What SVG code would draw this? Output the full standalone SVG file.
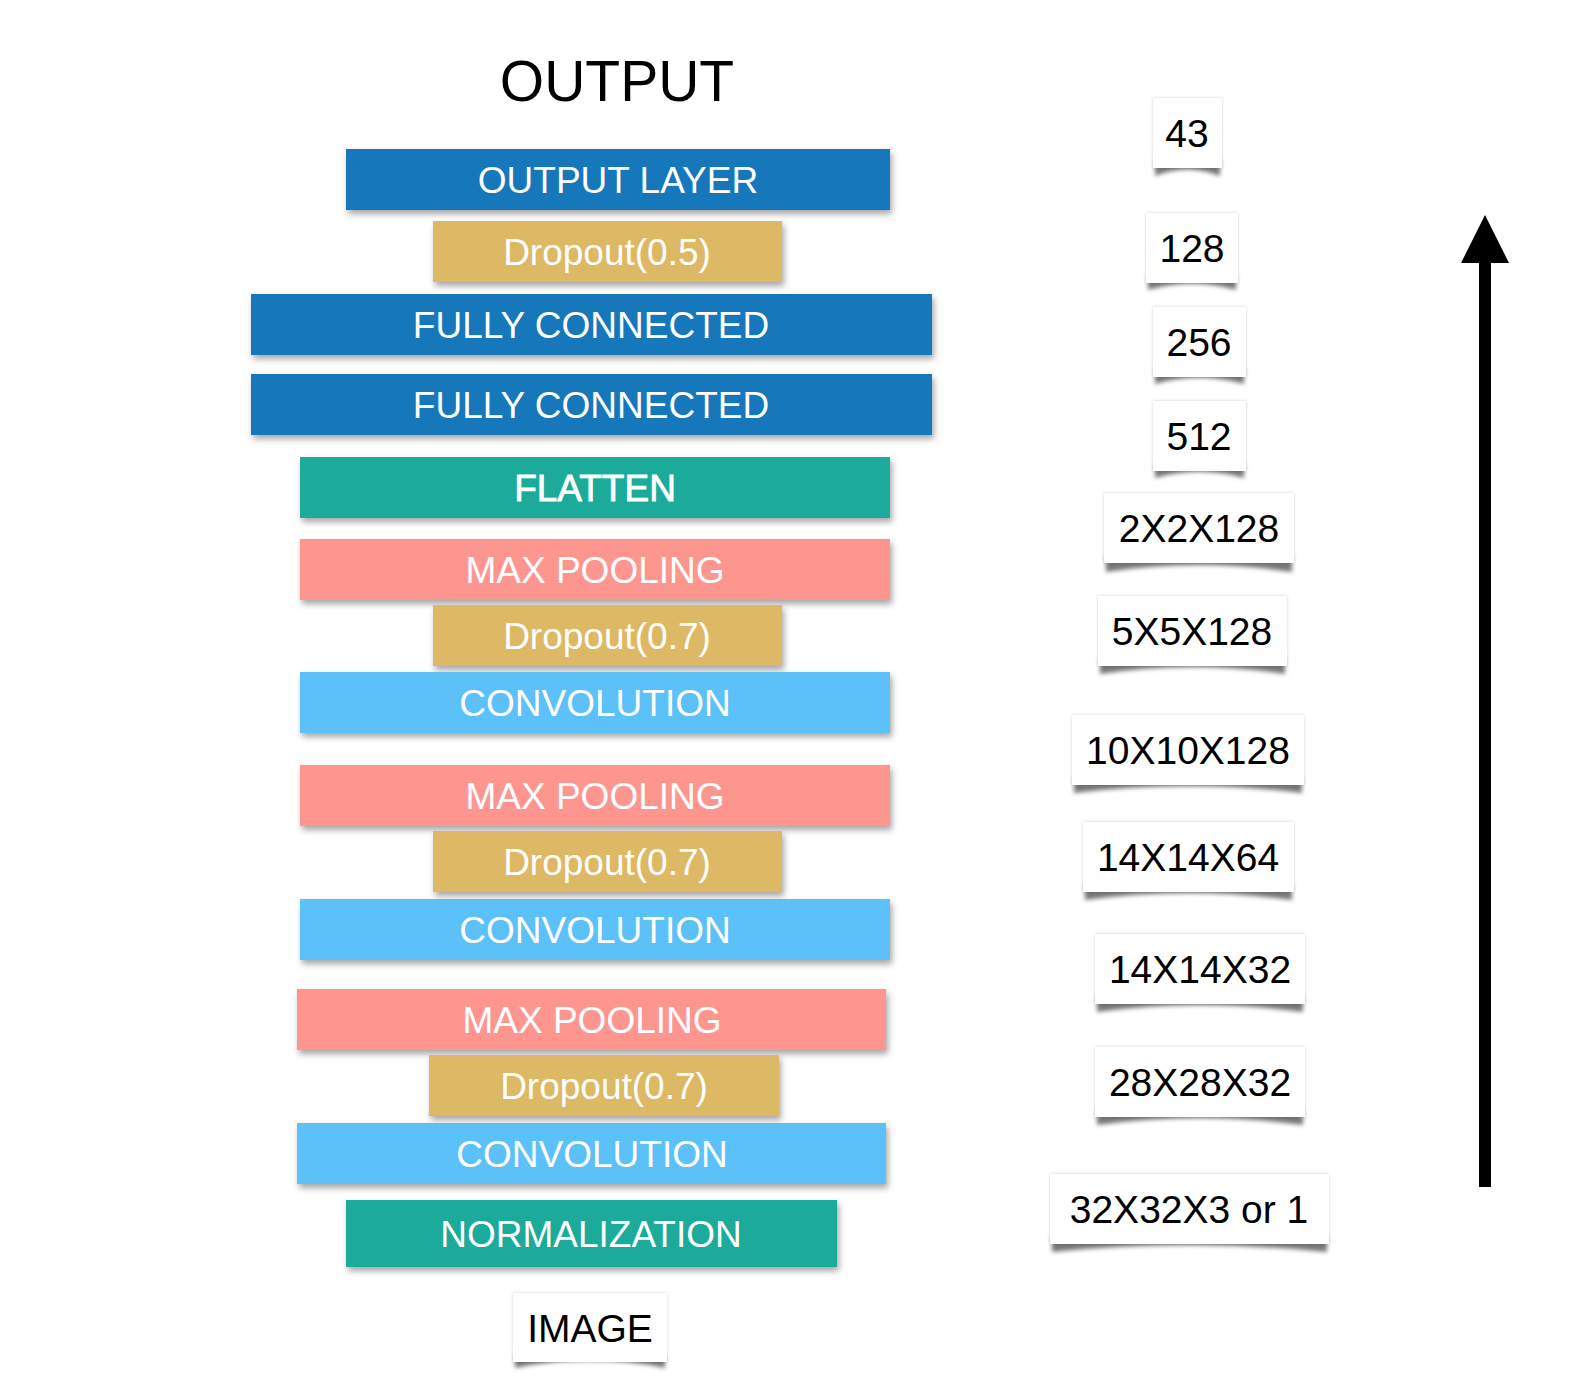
<svg xmlns="http://www.w3.org/2000/svg" width="1576" height="1390" viewBox="0 0 1576 1390">
<defs>
<filter id="barShadow" x="-5%" y="-30%" width="110%" height="170%">
<feDropShadow dx="2" dy="4" stdDeviation="3" flood-color="#000" flood-opacity="0.35"/>
</filter>
<filter id="curlBlur" x="-10%" y="-100%" width="120%" height="300%">
<feGaussianBlur stdDeviation="2"/>
</filter>
<filter id="edgeShadow" x="-10%" y="-20%" width="120%" height="140%">
<feDropShadow dx="0" dy="0" stdDeviation="1.5" flood-color="#000" flood-opacity="0.18"/>
</filter>
</defs>
<style>
.bar text{font-family:"Liberation Sans",Arial,sans-serif;font-size:37px;fill:#fff;text-anchor:middle}
.bar rect{filter:url(#barShadow)}
.dblue{fill:#1477BA}
.gold{fill:#DDB865}
.teal{fill:#1AAA9B}
.salmon{fill:#FD968F}
.lblue{fill:#5BC1F9}
.lbl text{font-family:"Liberation Sans",Arial,sans-serif;font-size:39px;fill:#000;text-anchor:middle}
.lbl rect{fill:#fff;filter:url(#edgeShadow)}
.lbl path{fill:#777;filter:url(#curlBlur)}
.title{font-family:"Liberation Sans",Arial,sans-serif;font-size:57px;fill:#000;text-anchor:middle}
</style>
<rect width="1576" height="1390" fill="#fff"/>

<text class="title" x="617" y="101">OUTPUT</text>

<g id="output-layer" class="bar"><rect class="dblue" x="346" y="149" width="544" height="61"/><text x="618" y="193">OUTPUT LAYER</text></g>
<g id="dropout-05" class="bar"><rect class="gold" x="433" y="221" width="349" height="61"/><text x="607" y="265">Dropout(0.5)</text></g>
<g id="fc-1" class="bar"><rect class="dblue" x="251" y="294" width="681" height="61"/><text x="591" y="338">FULLY CONNECTED</text></g>
<g id="fc-2" class="bar"><rect class="dblue" x="251" y="374" width="681" height="61"/><text x="591" y="418">FULLY CONNECTED</text></g>
<g id="flatten" class="bar"><rect class="teal" x="300" y="457" width="590" height="61"/><text x="595" y="501" stroke="#fff" stroke-width="0.8">FLATTEN</text></g>
<g id="maxpool-3" class="bar"><rect class="salmon" x="300" y="539" width="590" height="61"/><text x="595" y="583">MAX POOLING</text></g>
<g id="dropout-3" class="bar"><rect class="gold" x="433" y="605" width="349" height="61"/><text x="607" y="649">Dropout(0.7)</text></g>
<g id="conv-3" class="bar"><rect class="lblue" x="300" y="672" width="590" height="61"/><text x="595" y="716">CONVOLUTION</text></g>
<g id="maxpool-2" class="bar"><rect class="salmon" x="300" y="765" width="590" height="61"/><text x="595" y="809">MAX POOLING</text></g>
<g id="dropout-2" class="bar"><rect class="gold" x="433" y="831" width="349" height="61"/><text x="607" y="875">Dropout(0.7)</text></g>
<g id="conv-2" class="bar"><rect class="lblue" x="300" y="899" width="590" height="61"/><text x="595" y="943">CONVOLUTION</text></g>
<g id="maxpool-1" class="bar"><rect class="salmon" x="297" y="989" width="589" height="61"/><text x="592" y="1033">MAX POOLING</text></g>
<g id="dropout-1" class="bar"><rect class="gold" x="429" y="1055" width="350" height="61"/><text x="604" y="1099">Dropout(0.7)</text></g>
<g id="conv-1" class="bar"><rect class="lblue" x="297" y="1123" width="589" height="61"/><text x="592" y="1167">CONVOLUTION</text></g>
<g id="normalization" class="bar"><rect class="teal" x="346" y="1200" width="491" height="67"/><text x="591" y="1247">NORMALIZATION</text></g>

<g id="image" class="lbl"><path d="M515 1355 L515 1368 Q590 1352 665 1368 L665 1355 Z"/><rect x="513" y="1293" width="154" height="69"/><text x="590" y="1342">IMAGE</text></g>

<g id="dim-43" class="lbl"><path d="M1155 160 L1155 176 Q1187 163 1220 176 L1220 160 Z"/><rect x="1153" y="98" width="69" height="70"/><text x="1187" y="147">43</text></g>
<g id="dim-128" class="lbl"><path d="M1148 275 L1148 290 Q1192 277 1236 290 L1236 275 Z"/><rect x="1146" y="213" width="92" height="70"/><text x="1192" y="262">128</text></g>
<g id="dim-256" class="lbl"><path d="M1155 369 L1155 384 Q1199 371 1244 384 L1244 369 Z"/><rect x="1153" y="307" width="93" height="70"/><text x="1199" y="356">256</text></g>
<g id="dim-512" class="lbl"><path d="M1155 463 L1155 478 Q1199 465 1244 478 L1244 463 Z"/><rect x="1153" y="401" width="93" height="70"/><text x="1199" y="450">512</text></g>
<g id="dim-2x2x128" class="lbl"><path d="M1106 555 L1106 572 Q1199 558 1292 572 L1292 555 Z"/><rect x="1104" y="493" width="190" height="70"/><text x="1199" y="542">2X2X128</text></g>
<g id="dim-5x5x128" class="lbl"><path d="M1100 658 L1100 674 Q1192 660 1285 674 L1285 658 Z"/><rect x="1098" y="596" width="189" height="70"/><text x="1192" y="645">5X5X128</text></g>
<g id="dim-10x10x128" class="lbl"><path d="M1074 777 L1074 793 Q1188 779 1302 793 L1302 777 Z"/><rect x="1072" y="715" width="232" height="70"/><text x="1188" y="764">10X10X128</text></g>
<g id="dim-14x14x64" class="lbl"><path d="M1085 884 L1085 900 Q1188 886 1292 900 L1292 884 Z"/><rect x="1083" y="822" width="211" height="70"/><text x="1188" y="871">14X14X64</text></g>
<g id="dim-14x14x32" class="lbl"><path d="M1097 996 L1097 1012 Q1200 998 1303 1012 L1303 996 Z"/><rect x="1095" y="934" width="210" height="70"/><text x="1200" y="983">14X14X32</text></g>
<g id="dim-28x28x32" class="lbl"><path d="M1097 1109 L1097 1125 Q1200 1111 1303 1125 L1303 1109 Z"/><rect x="1095" y="1047" width="210" height="70"/><text x="1200" y="1096">28X28X32</text></g>
<g id="dim-input" class="lbl"><path d="M1052 1236 L1052 1252 Q1189 1238 1327 1252 L1327 1236 Z"/><rect x="1050" y="1174" width="279" height="70"/><text x="1189" y="1223">32X32X3 or 1</text></g>

<g id="connectors">
<rect x="1479" y="258" width="12" height="929" fill="#000"/>
<polygon points="1485,215 1509,263 1461,263" fill="#000"/>
</g>
</svg>
